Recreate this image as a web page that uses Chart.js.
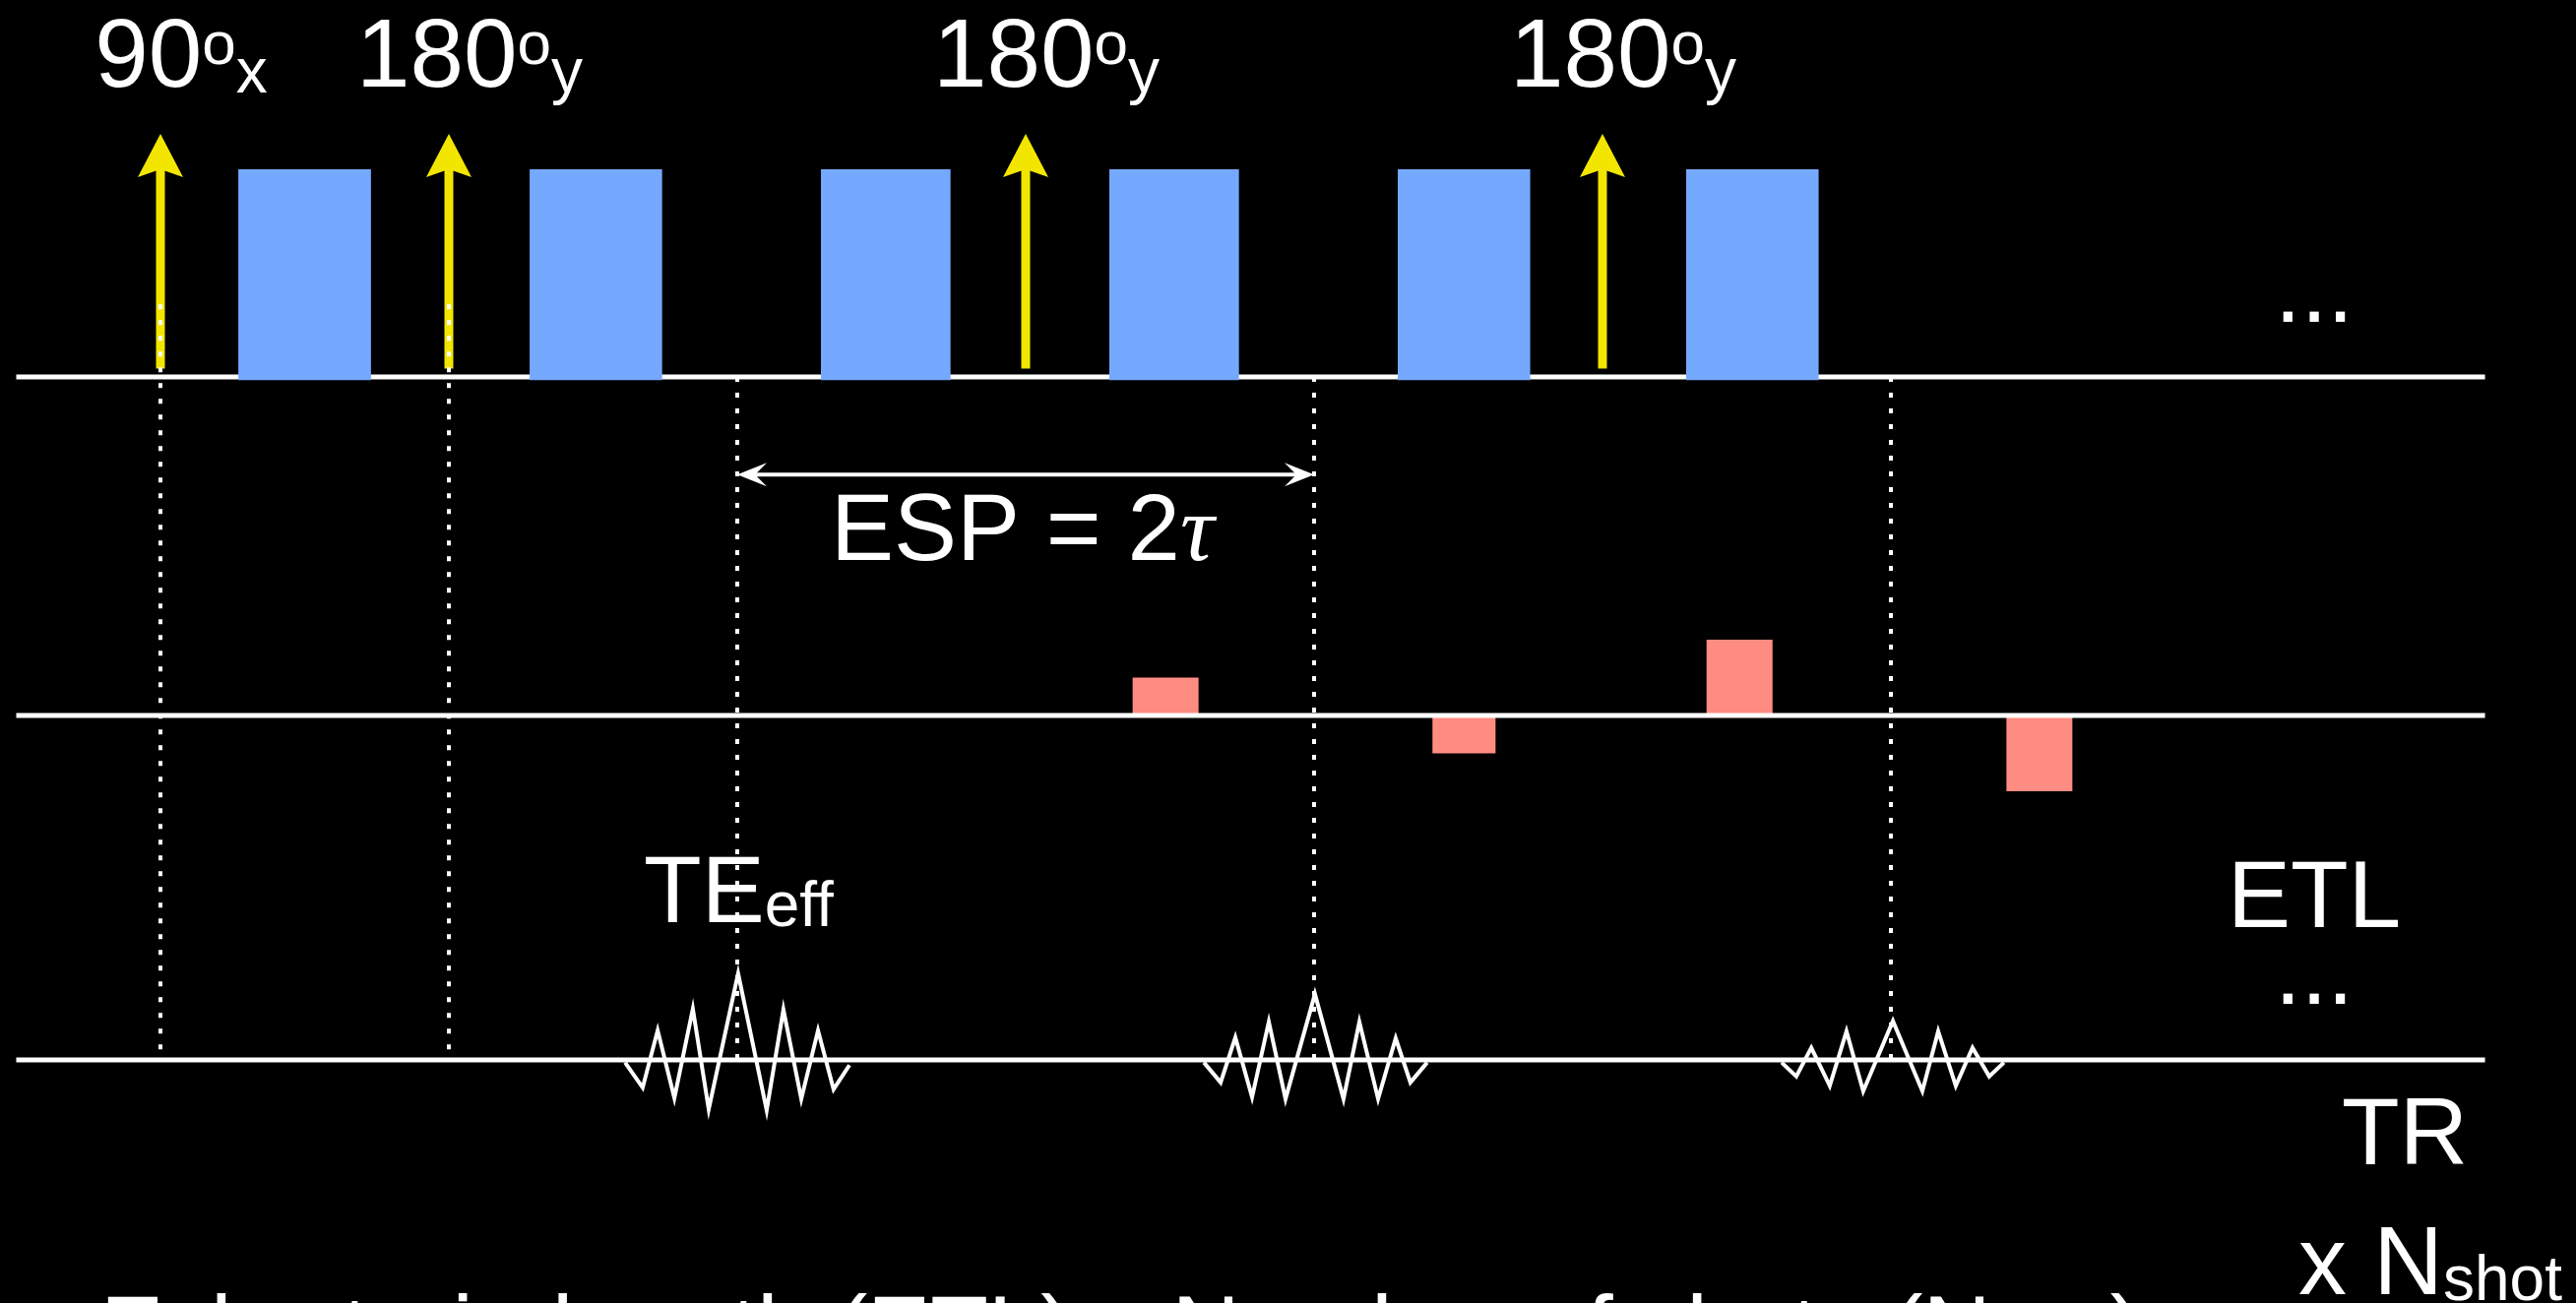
<!DOCTYPE html>
<html>
<head>
<meta charset="utf-8">
<title>Fast spin echo timing</title>
<script src="https://cdn.jsdelivr.net/npm/chart.js@4.4.1/dist/chart.umd.min.js"></script>
<style>
  html, body { margin: 0; padding: 0; background: #000; }
  canvas { display: block; }
</style>
</head>
<body>
<canvas id="seq" width="2617" height="1324"></canvas>
<script>
// time in ms, tau = 10 ms (ESP = 20 ms)
const pulseTimes  = [0, 10, 30, 50];
const pulseAngles = ['90', '180', '180', '180'];
const pulsePhases = ['x', 'y', 'y', 'y'];
const pulseHeight = 1.0;

// crusher lobes around each refocusing pulse
const crusherStart  = [2.7, 12.8, 22.9, 32.9, 42.9, 52.9];
const crusherEnd    = [7.3, 17.4, 27.4, 37.4, 47.5, 57.5];
const crusherHeight = 1.0;

// phase encode / rewind blips
const phaseStart = [33.7, 44.1, 53.6, 64.0];
const phaseEnd   = [36.0, 46.3, 55.9, 66.3];
const phaseSteps = [1, -1, 2, -2];

// echoes (time, amplitude)
const echo1T = [16.11, 16.72, 17.24, 17.82, 18.46, 19.01, 20.03, 21.02, 21.6, 22.22, 22.8, 23.34, 23.89];
const echo1A = [-0.03, -0.32, 0.34, -0.44, 0.59, -0.57, 1.0, -0.58, 0.58, -0.45, 0.34, -0.34, -0.06];
const echo2T = [36.18, 36.76, 37.27, 37.85, 38.43, 39.01, 40.03, 41.02, 41.57, 42.22, 42.83, 43.34, 43.92];
const echo2A = [-0.03, -0.26, 0.26, -0.43, 0.44, -0.45, 0.76, -0.45, 0.44, -0.45, 0.25, -0.26, -0.03];
const echo3T = [56.21, 56.72, 57.24, 57.88, 58.46, 59.04, 60.07, 61.09, 61.64, 62.25, 62.83, 63.41, 63.92];
const echo3A = [-0.03, -0.19, 0.14, -0.30, 0.33, -0.36, 0.45, -0.36, 0.33, -0.30, 0.14, -0.19, -0.03];

const markerTimes = [0, 10, 20, 40, 60];
const lineStart = -5, lineEnd = 80.6;

// ---- layout / style ----
const W = 2617, H = 1324;
const X0 = 163, PX_PER_MS = 29.3;
const YELLOW = '#F2E600', BLUE = '#75A8FF', RED = '#FF8C82', WHITE = '#FFFFFF';
const SANS = '"Liberation Sans", Arial, sans-serif';
const SERIF = '"Liberation Serif", "DejaVu Serif", serif';
const ARROW_GAP = 0.04, LOBE_BASE = -0.015;

function rowAxis(basePx, pxPerUnit) {
  return { type: 'linear', axis: 'y', display: false, min: -(H - basePx) / pxPerUnit, max: basePx / pxPerUnit };
}

function makeHead(w, tip, barb) {
  const c = document.createElement('canvas');
  c.width = w; c.height = tip * 2;
  const g = c.getContext('2d');
  g.fillStyle = YELLOW;
  g.beginPath();
  g.moveTo(w / 2, 0);
  g.lineTo(w, tip + barb);
  g.lineTo(w / 2, tip);
  g.lineTo(0, tip + barb);
  g.closePath();
  g.fill();
  return c;
}
const head = makeHead(46, 36, 8);

function rect(t0, t1, base, top) {
  return [{x: t0, y: base}, {x: t0, y: top}, {x: t1, y: top}, {x: t1, y: base}];
}

const datasets = [];

['rf', 'gpe', 'sig'].forEach(ax => {
  datasets.push({
    data: [{x: lineStart, y: 0}, {x: lineEnd, y: 0}],
    yAxisID: ax, borderColor: WHITE, borderWidth: 5, pointRadius: 0, order: 5
  });
});

crusherStart.forEach((t0, i) => {
  datasets.push({
    data: rect(t0, crusherEnd[i], LOBE_BASE, crusherHeight),
    yAxisID: 'rf', borderWidth: 0, borderColor: 'rgba(0,0,0,0)',
    backgroundColor: BLUE, fill: {value: LOBE_BASE}, pointRadius: 0, order: 3
  });
});

phaseStart.forEach((t0, i) => {
  datasets.push({
    data: rect(t0, phaseEnd[i], 0, phaseSteps[i]),
    yAxisID: 'gpe', borderWidth: 0, borderColor: 'rgba(0,0,0,0)',
    backgroundColor: RED, fill: {value: 0}, pointRadius: 0, order: 6
  });
});

pulseTimes.forEach(t => {
  datasets.push({
    data: [{x: t, y: ARROW_GAP}, {x: t, y: pulseHeight}],
    yAxisID: 'rf', borderColor: YELLOW, borderWidth: 9, borderCapStyle: 'butt',
    pointRadius: [0, 1], pointStyle: [false, head], order: 2
  });
});

[[echo1T, echo1A], [echo2T, echo2A], [echo3T, echo3A]].forEach(([ts, as]) => {
  datasets.push({
    data: ts.map((t, i) => ({x: t, y: as[i]})),
    yAxisID: 'sig', borderColor: WHITE, borderWidth: 4, borderJoinStyle: 'miter',
    pointRadius: 0, order: 1
  });
});

// draws a run of text pieces [text, size, dy, font, italic]
function runWidth(ctx, parts) {
  let w = 0;
  parts.forEach(p => { ctx.font = (p[4] ? 'italic ' : '') + p[1] + 'px ' + (p[3] || SANS); w += ctx.measureText(p[0]).width; });
  return w;
}
function drawRun(ctx, x, y, parts) {
  parts.forEach(p => {
    ctx.font = (p[4] ? 'italic ' : '') + p[1] + 'px ' + (p[3] || SANS);
    ctx.fillText(p[0], x, y + (p[2] || 0));
    x += ctx.measureText(p[0]).width;
  });
}

const overlay = {
  id: 'overlay',
  afterDatasetsDraw(chart) {
    const {ctx, scales} = chart;
    const x = scales.x, rf = scales.rf, sig = scales.sig;
    ctx.save();
    ctx.fillStyle = WHITE;
    ctx.strokeStyle = WHITE;
    ctx.textBaseline = 'alphabetic';

    // dotted timing markers
    ctx.lineWidth = 4;
    ctx.setLineDash([5, 11]);
    markerTimes.forEach(t => {
      const px = Math.round(x.getPixelForValue(t));
      const top = pulseTimes.includes(t) ? 0.35 : 0;
      ctx.beginPath();
      ctx.moveTo(px, rf.getPixelForValue(top));
      ctx.lineTo(px, sig.getPixelForValue(0));
      ctx.stroke();
    });
    ctx.setLineDash([]);

    // ESP arrow between first two echoes
    const xa = x.getPixelForValue(markerTimes[2]), xb = x.getPixelForValue(markerTimes[3]);
    const ya = rf.getPixelForValue(-0.47);
    ctx.lineWidth = 4;
    ctx.beginPath();
    ctx.moveTo(xa + 18, ya); ctx.lineTo(xb - 18, ya);
    ctx.stroke();
    [[xa, 1], [xb, -1]].forEach(([px, d]) => {
      ctx.beginPath();
      ctx.moveTo(px, ya);
      ctx.lineTo(px + d * 30, ya - 12);
      ctx.lineTo(px + d * 18, ya);
      ctx.lineTo(px + d * 30, ya + 12);
      ctx.closePath();
      ctx.fill();
    });
    drawRun(ctx, 844, 569, [['ESP = 2', 96], ['\u03C4', 96, 0, SERIF, true]]);

    // pulse labels
    pulseTimes.forEach((t, i) => {
      const parts = [[pulseAngles[i], 98], ['o', 62, -23], [pulsePhases[i], 64, 6]];
      const w = runWidth(ctx, parts);
      drawRun(ctx, x.getPixelForValue(t) + 21 - w / 2, 88, parts);
    });

    drawRun(ctx, 2311, 327, [['...', 96]]);
    drawRun(ctx, 654, 937, [['TE', 96], ['eff', 64, 4]]);
    drawRun(ctx, 2263, 942, [['ETL', 96]]);
    drawRun(ctx, 2311, 1020, [['...', 96]]);
    drawRun(ctx, 2379, 1183, [['TR', 96]]);
    drawRun(ctx, 2335, 1315, [['x N', 98], ['shot', 64, 6]]);
    drawRun(ctx, 102, 1384, [['Echo train length (ETL) x Number of shots (N', 96], ['shot', 64, 6], [')', 96]]);
    ctx.restore();
  }
};

new Chart(document.getElementById('seq'), {
  type: 'line',
  data: { datasets },
  options: {
    responsive: false,
    animation: false,
    devicePixelRatio: 1,
    events: [],
    layout: { padding: 0, autoPadding: false },
    plugins: { legend: { display: false }, tooltip: { enabled: false } },
    scales: {
      x: { type: 'linear', axis: 'x', display: false, min: -X0 / PX_PER_MS, max: (W - X0) / PX_PER_MS },
      rf: rowAxis(383, 211),
      gpe: rowAxis(727, 38.5),
      sig: rowAxis(1077, 88)
    }
  },
  plugins: [overlay]
});
</script>
</body>
</html>
